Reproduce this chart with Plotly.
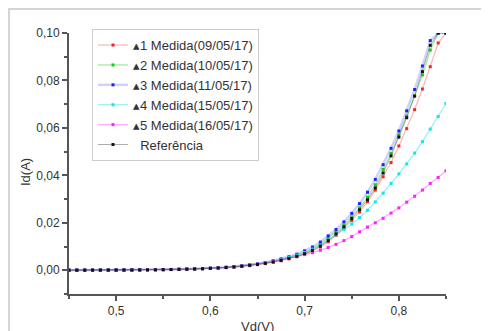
import plotly.graph_objects as go

vd = [0.4500, 0.4583, 0.4667, 0.4750, 0.4833, 0.4917, 0.5000, 0.5083, 0.5167, 0.5250,
      0.5333, 0.5417, 0.5500, 0.5583, 0.5667, 0.5750, 0.5833, 0.5917, 0.6000, 0.6083,
      0.6167, 0.6250, 0.6333, 0.6417, 0.6500, 0.6583, 0.6667, 0.6750, 0.6833, 0.6917,
      0.7000, 0.7083, 0.7167, 0.7250, 0.7333, 0.7417, 0.7500, 0.7583, 0.7667, 0.7750,
      0.7833, 0.7917, 0.8000, 0.8083, 0.8167, 0.8250, 0.8333, 0.8417, 0.8500]

medida1 = [0.00003, 0.00003, 0.00004, 0.00005, 0.00006, 0.00007, 0.00008, 0.00010, 0.00012, 0.00014,
           0.00017, 0.00021, 0.00025, 0.00030, 0.00036, 0.00043, 0.00052, 0.00063, 0.00077, 0.00093,
           0.00112, 0.00135, 0.00163, 0.00197, 0.00237, 0.0028, 0.0034, 0.0040, 0.0048, 0.0057,
           0.0068, 0.0081, 0.0098, 0.0120, 0.0147, 0.0177, 0.0210, 0.0246, 0.0289, 0.0338,
           0.0394, 0.0454, 0.0524, 0.0597, 0.0677, 0.0764, 0.0858, 0.0958, 0.1000]

medida2 = [0.00003, 0.00004, 0.00005, 0.00005, 0.00006, 0.00008, 0.00009, 0.00011, 0.00013, 0.00016,
           0.00019, 0.00023, 0.00028, 0.00033, 0.00040, 0.00048, 0.00058, 0.00070, 0.00085, 0.00102,
           0.00123, 0.00150, 0.00182, 0.00220, 0.00263, 0.0031, 0.0037, 0.0045, 0.0054, 0.0064,
           0.0075, 0.0090, 0.0110, 0.0134, 0.0161, 0.0190, 0.0225, 0.0263, 0.0308, 0.0360,
           0.0425, 0.0492, 0.0570, 0.0650, 0.0735, 0.0823, 0.0928, 0.1000, 0.1000]

medida3 = [0.00003, 0.00004, 0.00005, 0.00006, 0.00007, 0.00008, 0.00010, 0.00012, 0.00014, 0.00017,
           0.00021, 0.00025, 0.00030, 0.00036, 0.00043, 0.00052, 0.00062, 0.00075, 0.00090, 0.00108,
           0.00130, 0.00157, 0.00190, 0.00230, 0.00278, 0.0033, 0.0040, 0.0048, 0.0057, 0.0068,
           0.0082, 0.0098, 0.0119, 0.0145, 0.0172, 0.0204, 0.0240, 0.0281, 0.0329, 0.0383,
           0.0445, 0.0514, 0.0587, 0.0672, 0.0762, 0.0861, 0.0968, 0.1000, 0.1000]

medida4 = [0.00003, 0.00004, 0.00005, 0.00005, 0.00006, 0.00008, 0.00009, 0.00011, 0.00013, 0.00016,
           0.00019, 0.00023, 0.00028, 0.00034, 0.00041, 0.00049, 0.00059, 0.00072, 0.00087, 0.00104,
           0.00126, 0.00152, 0.00184, 0.00222, 0.00266, 0.0032, 0.0038, 0.0045, 0.0054, 0.0064,
           0.0075, 0.0089, 0.0106, 0.0127, 0.0149, 0.0172, 0.0195, 0.0222, 0.0253, 0.0288,
           0.0325, 0.0366, 0.0406, 0.0448, 0.0494, 0.0542, 0.0595, 0.0648, 0.0703]

medida5 = [0.00003, 0.00004, 0.00004, 0.00005, 0.00006, 0.00007, 0.00009, 0.00010, 0.00012, 0.00015,
           0.00018, 0.00022, 0.00026, 0.00031, 0.00038, 0.00046, 0.00055, 0.00067, 0.00081, 0.00098,
           0.00118, 0.00145, 0.00178, 0.00218, 0.00262, 0.0031, 0.0037, 0.0043, 0.0050, 0.0058,
           0.0066, 0.0074, 0.0084, 0.0096, 0.0109, 0.0125, 0.0142, 0.0162, 0.0182, 0.0200,
           0.0219, 0.0241, 0.0263, 0.0287, 0.0312, 0.0338, 0.0366, 0.0391, 0.0419]

referencia = [0.00003, 0.00004, 0.00004, 0.00005, 0.00006, 0.00007, 0.00009, 0.00010, 0.00012, 0.00015,
              0.00018, 0.00022, 0.00026, 0.00031, 0.00037, 0.00045, 0.00054, 0.00066, 0.00080, 0.00096,
              0.00115, 0.00140, 0.00170, 0.00205, 0.00245, 0.0029, 0.0035, 0.0042, 0.0050, 0.0059,
              0.0070, 0.0084, 0.0102, 0.0125, 0.0153, 0.0183, 0.0218, 0.0255, 0.0297, 0.0347,
              0.0410, 0.0482, 0.0561, 0.0643, 0.0734, 0.0837, 0.0948, 0.1000, 0.1000]

series_names = ["\u25b41 Medida(09/05/17)", "\u25b42 Medida(10/05/17)", "\u25b43 Medida(11/05/17)",
                "\u25b44 Medida(15/05/17)", "\u25b45 Medida(16/05/17)", "  Referência"]
series_values = [medida1, medida2, medida3, medida4, medida5, referencia]
marker_colors = ["#ff2020", "#10d010", "#2020ff", "#10e8e8", "#ff20ff", "#111111"]
line_colors = ["rgba(255,0,0,0.3)", "rgba(0,200,0,0.4)", "rgba(0,0,255,0.18)",
               "rgba(0,230,230,0.45)", "rgba(255,0,255,0.35)", "rgba(90,90,90,0.5)"]
line_widths = [1.2, 1.2, 2.5, 1.2, 1.2, 1.0]

fig = go.Figure()
for name, vals, mc, lc, lw in zip(series_names, series_values, marker_colors, line_colors, line_widths):
    fig.add_trace(go.Scatter(
        x=vd, y=vals, name=name, mode="lines+markers",
        line=dict(color=lc, width=lw),
        marker=dict(symbol="square", size=3, color=mc, line=dict(width=0)),
        cliponaxis=True,
    ))

axis_color = "#555555"
font_family = "Liberation Sans, Arial, sans-serif"

fig.update_layout(
    width=481, height=323,
    margin=dict(l=61, r=43, t=25, b=37, autoexpand=False),
    paper_bgcolor="white", plot_bgcolor="white",
    separators=",.",
    font=dict(family=font_family, size=12, color="#333333"),
    showlegend=True,
    legend=dict(
        x=0.061, y=1.015, xanchor="left", yanchor="top",
        bordercolor="#cccccc", borderwidth=1, bgcolor="white",
        font=dict(family=font_family, size=13, color="#333333"),
        tracegroupgap=0, itemwidth=30,
    ),
    xaxis=dict(
        range=[0.45, 0.85], tick0=0.5, dtick=0.1, tickformat=".1f",
        showline=True, linecolor=axis_color, linewidth=2,
        ticks="outside", ticklen=5, tickwidth=1.5, tickcolor=axis_color,
        minor=dict(dtick=0.05, tick0=0.45, ticks="outside", ticklen=3, tickwidth=1.5, tickcolor=axis_color),
        showgrid=False, zeroline=False, mirror=False,
        tickfont=dict(size=12, color="#333333"),
    ),
    yaxis=dict(
        range=[-0.01, 0.10], tick0=0, dtick=0.02, tickformat=".2f",
        showline=True, linecolor=axis_color, linewidth=2,
        ticks="outside", ticklen=5, tickwidth=1.5, tickcolor=axis_color,
        minor=dict(dtick=0.01, tick0=0, ticks="outside", ticklen=3, tickwidth=1.5, tickcolor=axis_color),
        showgrid=False, zeroline=False, mirror=False,
        tickfont=dict(size=12, color="#333333"),
    ),
    annotations=[
        dict(text="Vd(V)", xref="paper", yref="paper", x=0.5, y=-0.125,
             xanchor="center", yanchor="middle", showarrow=False,
             font=dict(size=13, color="#333333")),
        dict(text="Id(A)", xref="paper", yref="paper", x=-0.117, y=0.467,
             xanchor="center", yanchor="middle", showarrow=False, textangle=-90,
             font=dict(size=13, color="#333333")),
    ],
    shapes=[
        dict(type="rect", xref="paper", yref="paper", x0=-0.159, x1=2.0, y0=-1.0, y1=1.092,
             line=dict(color="#d4d4d4", width=2), fillcolor="rgba(0,0,0,0)", layer="below"),
    ],
)

fig.write_html("out.html")
